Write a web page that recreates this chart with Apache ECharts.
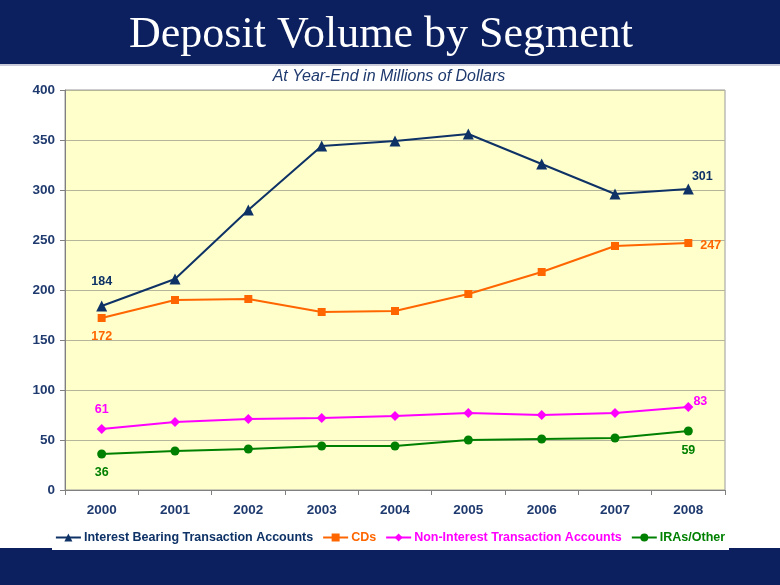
<!DOCTYPE html>
<html>
<head>
<meta charset="utf-8">
<script src="https://cdn.jsdelivr.net/npm/echarts@6/dist/echarts.min.js"></script>
<style>
html,body{margin:0;padding:0;background:#fff;}
#chart{width:780px;height:585px;}
</style>
</head>
<body>
<div id="chart"></div>
<script>
const years = ['2000','2001','2002','2003','2004','2005','2006','2007','2008'];
const interestBearing = [184, 211, 280, 344, 349, 356, 326, 296, 301];
const cds = [172, 190, 191, 178, 179, 196, 218, 244, 247];
const nonInterest = [61, 68, 71, 72, 74, 77, 75, 77, 83];
const iras = [36, 39, 41, 44, 44, 50, 51, 52, 59];
const seriesNames = ['Interest Bearing Transaction Accounts', 'CDs', 'Non-Interest Transaction Accounts', 'IRAs/Other'];
const yTicks = [0, 50, 100, 150, 200, 250, 300, 350, 400];

const NAVY = '#0C1F5E';
const LABEL = '#1F3A6E';
const colors = ['#0E3266', '#FF6600', '#FF00FF', '#008000'];
const FONT = '"Liberation Sans",Arial,sans-serif';

function withEndLabels(values, color, first, last) {
  return values.map((v, i) => {
    if (i === 0) return {value: v, label: Object.assign({show: true, color: color, fontWeight: 'bold', fontSize: 12.5, fontFamily: FONT, formatter: '{c}'}, first)};
    if (i === values.length - 1) return {value: v, label: Object.assign({show: true, color: color, fontWeight: 'bold', fontSize: 12.5, fontFamily: FONT, formatter: '{c}'}, last)};
    return v;
  });
}

const chart = echarts.init(document.getElementById('chart'), null, {renderer: 'canvas'});
chart.setOption({
  animation: false,
  backgroundColor: '#ffffff',
  graphic: [
    {type: 'rect', shape: {x: 0, y: 0, width: 780, height: 64}, style: {fill: NAVY}, z: -10},
    {type: 'rect', shape: {x: 0, y: 64, width: 780, height: 2}, style: {fill: '#C9CCD8'}, z: -10},
    {type: 'rect', shape: {x: 0, y: 548, width: 780, height: 37}, style: {fill: NAVY}, z: -10},
    {type: 'rect', shape: {x: 52, y: 520, width: 677, height: 30}, style: {fill: '#ffffff'}, z: -5},
    {type: 'text', x: 381, y: 13, style: {text: 'Deposit Volume by Segment', fill: '#ffffff', align: 'center', font: '44px "Liberation Serif","Times New Roman",serif'}},
    {type: 'text', x: 389, y: 69, style: {text: 'At Year-End in Millions of Dollars', fill: LABEL, align: 'center', font: 'italic 16px ' + FONT}}
  ],
  grid: {left: 65, right: 55, top: 90, bottom: 95, show: true, backgroundColor: '#FFFFCC', borderColor: '#9A9A9A', borderWidth: 1},
  legend: {
    bottom: 36,
    left: 'center',
    itemGap: 9,
    itemWidth: 25,
    itemHeight: 10,
    textStyle: {fontFamily: FONT, fontSize: 12.5, fontWeight: 'bold', padding: [0, 0, 0, -2]},
    data: seriesNames.map((n, i) => ({name: n, textStyle: {color: colors[i]}}))
  },
  xAxis: {
    type: 'category',
    data: years,
    boundaryGap: true,
    axisLine: {lineStyle: {color: '#808080'}},
    axisTick: {show: true, lineStyle: {color: '#808080'}, length: 5},
    axisLabel: {color: LABEL, fontFamily: FONT, fontSize: 13.5, fontWeight: 'bold', margin: 13}
  },
  yAxis: {
    type: 'value',
    min: yTicks[0],
    max: yTicks[yTicks.length - 1],
    interval: 50,
    axisLine: {show: true, lineStyle: {color: '#808080'}},
    axisTick: {show: true, lineStyle: {color: '#808080'}, length: 5},
    splitLine: {lineStyle: {color: '#B5B59A', width: 1}},
    axisLabel: {color: LABEL, fontFamily: FONT, fontSize: 13.5, fontWeight: 'bold', margin: 10}
  },
  series: [
    {
      name: seriesNames[0], type: 'line', data: withEndLabels(interestBearing, colors[0], {position: 'top', distance: 12}, {position: 'top', distance: 0, offset: [14, 0]}),
      color: colors[0], symbol: 'triangle', symbolSize: 11, lineStyle: {width: 2}, itemStyle: {color: colors[0]}, z: 5
    },
    {
      name: seriesNames[1], type: 'line', data: withEndLabels(cds, colors[1], {position: 'bottom', distance: 8}, {position: 'right', distance: 8, offset: [0, 3]}),
      color: colors[1], symbol: 'rect', symbolSize: 8, lineStyle: {width: 2}, itemStyle: {color: colors[1]}, z: 4
    },
    {
      name: seriesNames[2], type: 'line', data: withEndLabels(nonInterest, colors[2], {position: 'top', distance: 8}, {position: 'top', distance: -6, offset: [12, 0]}),
      color: colors[2], symbol: 'diamond', symbolSize: 10, lineStyle: {width: 2}, itemStyle: {color: colors[2]}, z: 3
    },
    {
      name: seriesNames[3], type: 'line', data: withEndLabels(iras, colors[3], {position: 'bottom', distance: 8}, {position: 'bottom', distance: 9}),
      color: colors[3], symbol: 'circle', symbolSize: 9, lineStyle: {width: 2}, itemStyle: {color: colors[3]}, z: 2
    }
  ]
});
</script>
</body>
</html>
